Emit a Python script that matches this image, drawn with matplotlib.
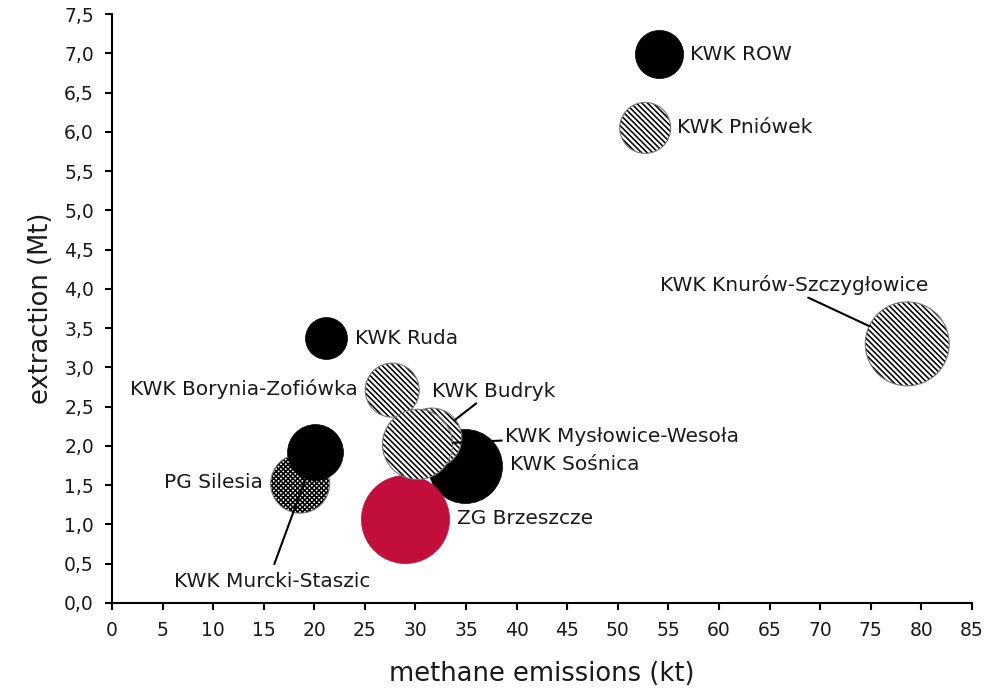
"""Bubble chart: methane emissions vs coal extraction for Silesian mines."""

import matplotlib
matplotlib.use('Agg')
import matplotlib.pyplot as plt
from matplotlib.ticker import FuncFormatter, MultipleLocator

###################################################################################################
###################################################################################################

mines = ['KWK ROW', 'KWK Pniówek', 'KWK Knurów-Szczygłowice', 'KWK Ruda',
         'KWK Borynia-Zofiówka', 'PG Silesia', 'KWK Murcki-Staszic', 'KWK Sośnica',
         'ZG Brzeszcze', 'KWK Budryk', 'KWK Mysłowice-Wesoła']
methane_kt = [54.1, 52.7, 78.6, 21.2, 27.7, 18.6, 20.1, 34.9, 29.0, 31.6, 30.2]
extraction_mt = [6.99, 6.05, 3.30, 3.37, 2.71, 1.52, 1.92, 1.75, 1.07, 2.10, 2.02]
bubble_size = [5.8, 6.5, 17.6, 4.4, 7.3, 8.7, 7.8, 13.7, 19.4, 9.0, 12.3]

RED = '#c20e3a'
TXT = '#1a1a1a'
DIAG = '\\' * 6

# fill style per mine: (facecolor, hatch)
styles = {
    'KWK ROW': ('black', None),
    'KWK Pniówek': ('white', DIAG),
    'KWK Knurów-Szczygłowice': ('white', DIAG),
    'KWK Ruda': ('black', None),
    'KWK Borynia-Zofiówka': ('white', DIAG),
    'PG Silesia': ('white', 'xxxxxxx'),
    'KWK Murcki-Staszic': ('black', None),
    'KWK Sośnica': ('black', None),
    'ZG Brzeszcze': (RED, None),
    'KWK Budryk': ('white', DIAG),
    'KWK Mysłowice-Wesoła': ('white', DIAG),
}

# label placement: offset (px, right/down) of text anchor, ha, leader relpos or None
labels = {
    'KWK ROW': (31, 0, 'left', None),
    'KWK Pniówek': (32, 0, 'left', None),
    'KWK Knurów-Szczygłowice': (-113, -59, 'center', (0.53, 0.0)),
    'KWK Ruda': (29, 0, 'left', None),
    'KWK Borynia-Zofiówka': (-34, -1, 'right', None),
    'PG Silesia': (-37, -1, 'right', None),
    'KWK Murcki-Staszic': (-43, 129, 'center', (0.51, 1.4)),
    'KWK Sośnica': (45, -1, 'left', None),
    'ZG Brzeszcze': (52, 0, 'left', None),
    'KWK Budryk': (0, -47, 'left', (0.37, -0.1)),
    'KWK Mysłowice-Wesoła': (87, -8, 'left', (-0.01, 0.28)),
}

plt.rcParams['font.family'] = ['DejaVu Sans']
plt.rcParams['hatch.linewidth'] = 1.15

fig = plt.figure(figsize=(9.97, 6.90), dpi=100)
ax = fig.add_axes([0.1123, 0.1261, 0.8626, 0.8536])

PX = 0.72  # points per pixel at 100 dpi
for i, name in enumerate(mines):
    face, hatch = styles[name]
    z = 2 + i * 0.01
    area = 207.4 * bubble_size[i]
    if hatch:
        # hatch takes the edge colour, so fill + hatch in black, then a thin grey rim
        ax.scatter(methane_kt[i], extraction_mt[i], s=area, marker='o', facecolor=face,
                   edgecolor='black', linewidth=0, hatch=hatch, zorder=z, clip_on=False)
        ax.scatter(methane_kt[i], extraction_mt[i], s=area, marker='o', facecolor='none',
                   edgecolor='#777777', linewidth=0.8, zorder=z + 0.001, clip_on=False)
    else:
        ax.scatter(methane_kt[i], extraction_mt[i], s=area, marker='o', facecolor=face,
                   edgecolor=face, linewidth=0.5, zorder=z, clip_on=False)

for i, name in enumerate(mines):
    dx, dy, ha, rel = labels[name]
    radius_pt = (207.4 * bubble_size[i]) ** 0.5 / 2
    arrow = None
    if rel is not None:
        arrow = dict(arrowstyle='-', color='black', lw=1.5, relpos=rel,
                     shrinkA=0, shrinkB=radius_pt)
    ax.annotate(name, xy=(methane_kt[i], extraction_mt[i]),
                xytext=(dx * PX, -dy * PX), textcoords='offset points',
                ha=ha, va='center', fontsize=14.5, color=TXT,
                arrowprops=arrow, zorder=5)

ax.set_xlim(0, 85)
ax.set_ylim(0, 7.5)
ax.xaxis.set_major_locator(MultipleLocator(5))
ax.yaxis.set_major_locator(MultipleLocator(0.5))
ax.yaxis.set_major_formatter(FuncFormatter(lambda v, p: f'{v:.1f}'.replace('.', ',')))

for side in ['top', 'right']:
    ax.spines[side].set_visible(False)
for side in ['left', 'bottom']:
    ax.spines[side].set_linewidth(1.5)
ax.tick_params(axis='both', which='major', direction='out', length=5, width=1.5,
               labelsize=13.5, labelcolor=TXT, pad=8)

ax.set_xlabel('methane emissions (kt)', fontsize=18.5, color=TXT, labelpad=15)
ax.set_ylabel('extraction (Mt)', fontsize=18.5, color=TXT, labelpad=7)

plt.savefig('out.png', dpi=100)
